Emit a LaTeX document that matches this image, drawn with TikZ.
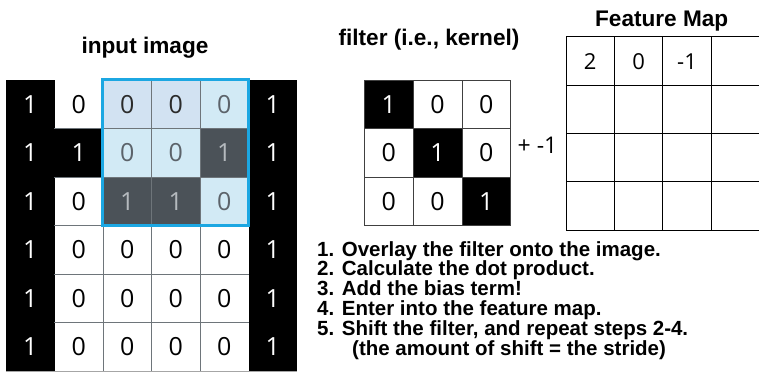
\documentclass[tikz,border=0pt]{standalone}
\usepackage{fontspec}
\setmainfont{Liberation Sans}
\newfontfamily\digitfont{Open Sans}
\definecolor{lbA}{HTML}{D2E2F2}
\definecolor{lbB}{HTML}{D2EAF5}
\definecolor{dk}{HTML}{4B5258}
\definecolor{txA}{HTML}{2B2B2B}
\definecolor{txB}{HTML}{5C636A}
\definecolor{txD}{HTML}{B5BABE}
\definecolor{hl}{HTML}{1CA7E2}
\definecolor{gridg}{HTML}{6E757A}
\tikzset{
  incell/.style={minimum width=48.5pt, minimum height=48.5pt, inner sep=0pt, draw=none,
    font=\digitfont\fontsize{25}{25}\selectfont},
  fcell/.style={minimum width=48.8pt, minimum height=48.6pt, inner sep=0pt, draw=black!75,
    line width=0.8pt, font=\digitfont\fontsize{25}{25}\selectfont},
  fmcell/.style={minimum width=48.4pt, minimum height=48.3pt, inner sep=0pt, draw=black,
    line width=0.8pt},
  fmval/.style={font=\digitfont\fontsize{22}{22}\selectfont, inner sep=0pt},
  gridline/.style={draw=gridg, line width=0.8pt},
  titletext/.style={font=\bfseries\fontsize{22.6}{24}\selectfont, anchor=base, inner sep=0pt},
  steptext/.style={font=\bfseries\fontsize{20.5}{22}\selectfont, anchor=base west, inner sep=0pt},
}
\begin{document}
\begin{tikzpicture}[x=1pt,y=-1pt]
\clip (0,0) rectangle (759,383);
\fill[white] (0,0) rectangle (759,383);
% input image
\foreach \c/\f/\t/\v in {1/black/white/1, 2/white/black/0, 3/lbA/txA/0, 4/lbA/txA/0, 5/lbB/txB/0, 6/black/white/1}
  \node[incell, fill=\f, text=\t] (in-1-\c) at ({6+48.5*(\c-0.5)}, {80+48.5*0.5}) {\v};
\foreach \c/\f/\t/\v in {1/black/white/1, 2/black/white/1, 3/lbB/txB/0, 4/lbB/txB/0, 5/dk/txD/1, 6/black/white/1}
  \node[incell, fill=\f, text=\t] (in-2-\c) at ({6+48.5*(\c-0.5)}, {80+48.5*1.5}) {\v};
\foreach \c/\f/\t/\v in {1/black/white/1, 2/white/black/0, 3/dk/txD/1, 4/dk/txD/1, 5/lbB/txB/0, 6/black/white/1}
  \node[incell, fill=\f, text=\t] (in-3-\c) at ({6+48.5*(\c-0.5)}, {80+48.5*2.5}) {\v};
\foreach \r in {4,5,6}
  \foreach \c/\f/\t/\v in {1/black/white/1, 2/white/black/0, 3/white/black/0, 4/white/black/0, 5/white/black/0, 6/black/white/1}
    \node[incell, fill=\f, text=\t] (in-\r-\c) at ({6+48.5*(\c-0.5)}, {80+48.5*(\r-0.5)}) {\v};
\foreach \c in {2,3,4}
  \draw[gridline] (in-1-\c.north east) -- (in-6-\c.south east);
\foreach \r in {1,...,5}
  \draw[gridline] (in-\r-2.south west) -- (in-\r-5.south east);
\draw[draw=black!35, line width=0.8pt] (in-6-1.south west) -- (in-6-6.south east);
\draw[hl, line width=2.7pt] (in-1-3.north west) rectangle (in-3-5.south east);
\node[titletext] (t-in) at (145,53.3) {input image};
% filter
\foreach \r/\c/\f/\t/\v in {1/1/black/white/1, 1/2/white/black/0, 1/3/white/black/0,
    2/1/white/black/0, 2/2/black/white/1, 2/3/white/black/0,
    3/1/white/black/0, 3/2/white/black/0, 3/3/black/white/1}
  \node[fcell, fill=\f, text=\t] (f-\r-\c) at ({364.3+48.8*(\c-0.5)}, {80+48.6*(\r-0.5)}) {\v};
\node[titletext] (t-f) at (429,45) {filter (i.e., kernel)};
\node[font=\digitfont\fontsize{23}{23}\selectfont, anchor=base, inner sep=0pt] (bias) at (537.5,153.3) {+ -1};
% feature map
\foreach \r in {1,...,4}
  \foreach \c in {1,...,4}
    \node[fmcell] (fm-\r-\c) at ({566+48.4*(\c-0.5)}, {36.7+48.3*(\r-0.5)}) {};
\node[fmval] (v1) at ([yshift=-1pt]fm-1-1.center) {2};
\node[fmval] (v2) at ([yshift=-1pt]fm-1-2.center) {0};
\node[fmval] (v3) at ([yshift=-1pt]fm-1-3.center) {-1};
\node[titletext] (t-fm) at (661.7,26.7) {Feature Map};
% steps
\node[steptext] (s1) at (317,256) {1. Overlay the filter onto the image.};
\node[steptext] (s2) at (317,275.8) {2. Calculate the dot product.};
\node[steptext] (s3) at (317,295.6) {3. Add the bias term!};
\node[steptext] (s4) at (317,315.4) {4. Enter into the feature map.};
\node[steptext] (s5) at (317,335.2) {5. Shift the filter, and repeat steps 2-4.};
\node[steptext] (s6) at (352,355) {(the amount of shift = the stride)};
\end{tikzpicture}
\end{document}
